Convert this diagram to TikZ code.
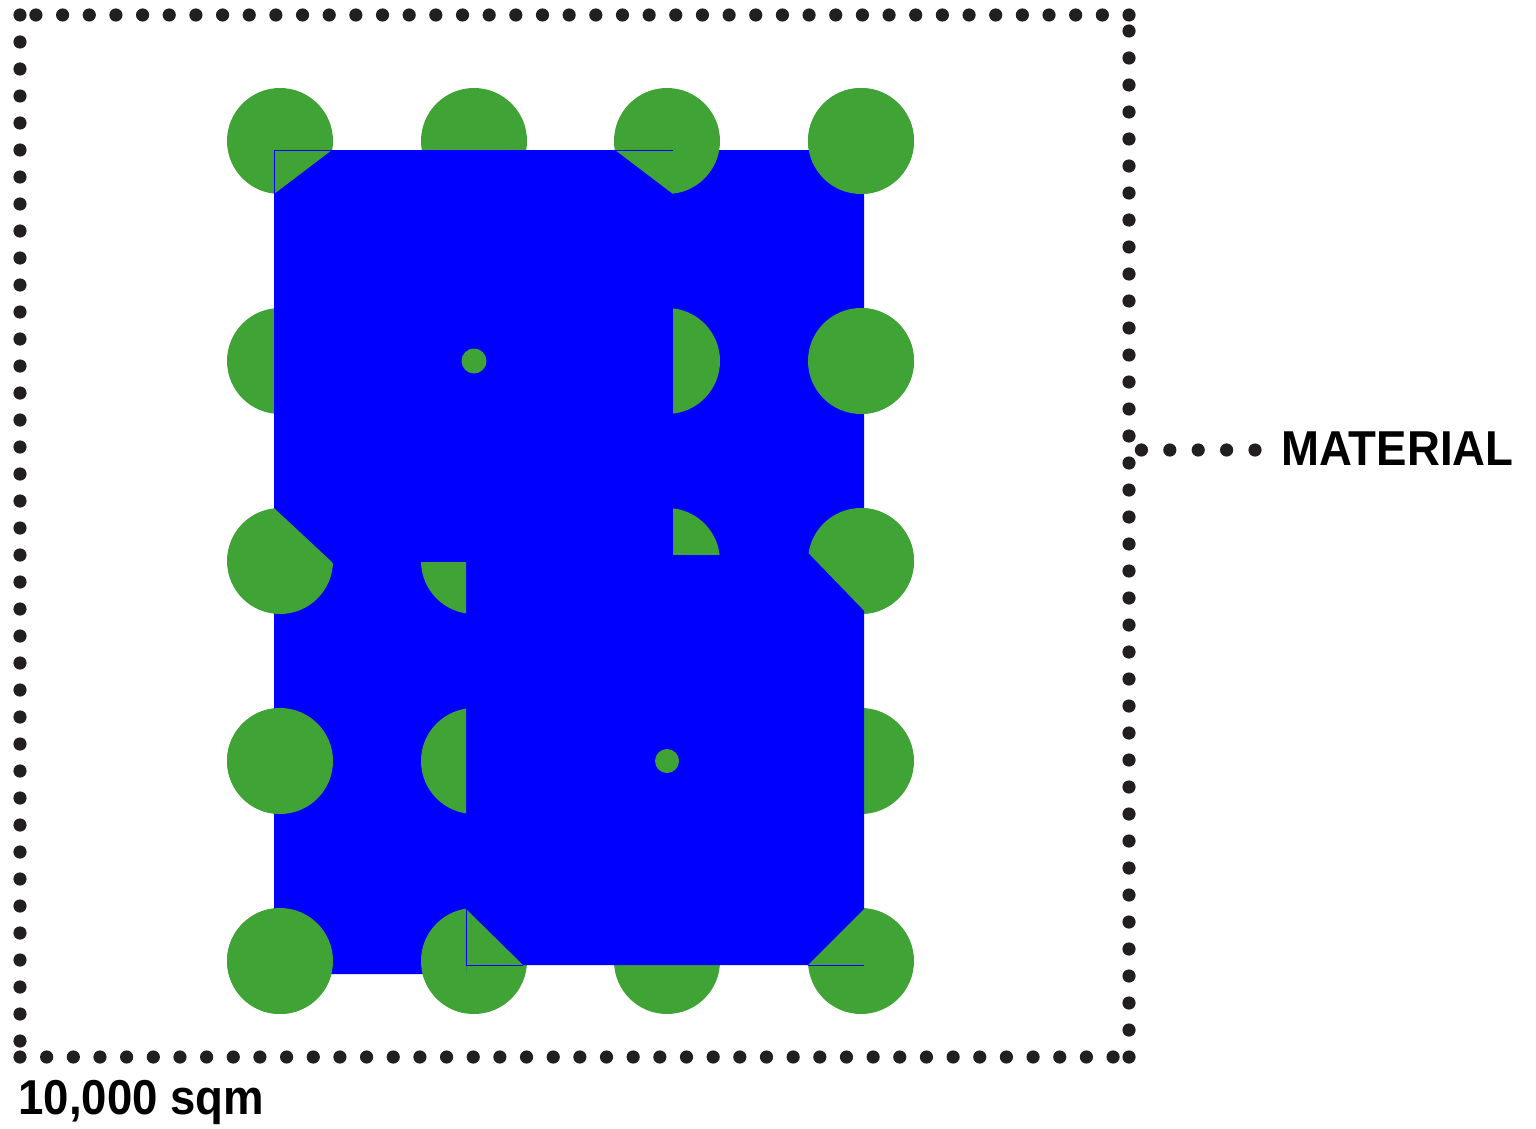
\documentclass[tikz,border=0pt]{standalone}
\usepackage{fontspec}
\setmainfont{Liberation Sans}
\newfontfamily\labelfont[FakeStretch=0.93]{Liberation Sans}

\definecolor{leafgreen}{RGB}{63,164,53}
\definecolor{matblue}{RGB}{0,0,255}
\definecolor{dotblack}{RGB}{35,31,32}

\tikzset{
  spot/.style={fill=leafgreen},
  sheet/.style={fill=matblue},
  seam/.style={draw=matblue, line width=0.5pt},
  hdots/.style={draw=dotblack, line width=6.6pt, line cap=round, dash pattern=on 0pt off 13.33pt},
  vdots/.style={draw=dotblack, line width=6.6pt, line cap=round, dash pattern=on 0pt off 13.5pt},
  leaddots/.style={draw=dotblack, line width=6.6pt, line cap=round, dash pattern=on 0pt off 14.2pt},
  tag/.style={font=\labelfont\bfseries\fontsize{24.5pt}{29pt}\selectfont, inner sep=0pt, anchor=base west},
}
\newcommand{\spotr}{53}

\begin{document}
\begin{tikzpicture}[x=0.5pt, y=-0.5pt]
  \useasboundingbox (0,0) rectangle (1536,1129);

  % spot centres, column i, row j
  \foreach \x [count=\i] in {280,474,667,861} {
    \foreach \y [count=\j] in {141,361,561,761,961} {
      \coordinate (c\i\j) at (\x,\y);
    }
  }

  % spots under the sheet
  \foreach \i in {1,...,4} {
    \foreach \j in {1,...,5} {
      \fill[spot] (c\i\j) circle (\spotr);
    }
  }

  % the material sheet
  \fill[sheet] (274,150) -- (864,150) -- (864,965) -- (466,965)
    -- (466,974) -- (274,974) -- cycle;

  % spots lying on the sheet
  \foreach \c in {c41,c42,c14,c15} {
    \fill[spot] (\c) circle (\spotr);
  }

  % cut pieces showing through
  \fill[spot] (274,150) -- (332,150) -- (274,194) -- cycle;
  \begin{scope}
    \clip (615,150) -- (673,194) -- (673,220) -- (740,220) -- (740,150) -- cycle;
    \fill[spot] (c31) circle (\spotr);
  \end{scope}
  \begin{scope}
    \clip (673,300) rectangle (730,420);
    \fill[spot] (c32) circle (\spotr);
  \end{scope}
  \begin{scope}
    \clip (673,500) rectangle (730,554);
    \fill[spot] (c33) circle (\spotr);
  \end{scope}
  \begin{scope}
    \clip (274,508) -- (333,563) -- (345,574) -- (345,620) -- (274,620) -- cycle;
    \fill[spot] (c13) circle (\spotr);
  \end{scope}
  \begin{scope}
    \clip (410,562) rectangle (466,620);
    \fill[spot] (c23) circle (\spotr);
  \end{scope}
  \begin{scope}
    \clip (790,534) -- (875,622) -- (920,622) -- (920,500) -- (790,500) -- cycle;
    \fill[spot] (c43) circle (\spotr);
  \end{scope}
  \begin{scope}
    \clip (410,700) rectangle (466,1020);
    \fill[spot] (c24) circle (\spotr);
    \fill[spot] (c25) circle (\spotr);
  \end{scope}
  \fill[spot] (466,909) -- (466,965) -- (523,965) -- cycle;
  \begin{scope}
    \clip (808,965) -- (866,965) -- (866,907) -- cycle;
    \fill[spot] (c45) circle (\spotr);
  \end{scope}

  % small spots
  \fill[spot] (c22) circle (12.5);
  \fill[spot] (c34) circle (12);

  % seams
  \draw[seam] (274,194) -- (274,150) -- (332,150);
  \draw[seam] (615,150) -- (673,150);
  \draw[seam] (466,909) -- (466,965) -- (523,965);
  \draw[seam] (808,965) -- (864,965);

  % dotted site boundary
  \coordinate (bl) at (20,1057);
  \coordinate (br) at (1129,1057);
  \coordinate (tr) at (1129,15);
  \coordinate (tl) at (20,15);
  \draw[hdots] (bl) -- (br);
  \draw[vdots] (br) -- (tr);
  \draw[hdots] (tr) -- (tl);
  \draw[vdots] (tl) -- (bl);

  % labels
  \node[tag] (material) at (1281,465) {MATERIAL};
  \coordinate (matedge) at (1129,450);
  \coordinate (matlead) at (1255,450);
  \draw[leaddots] (matlead) -- (matedge);
  \node[tag] (area) at (18,1114) {10,000 sqm};
\end{tikzpicture}
\end{document}
